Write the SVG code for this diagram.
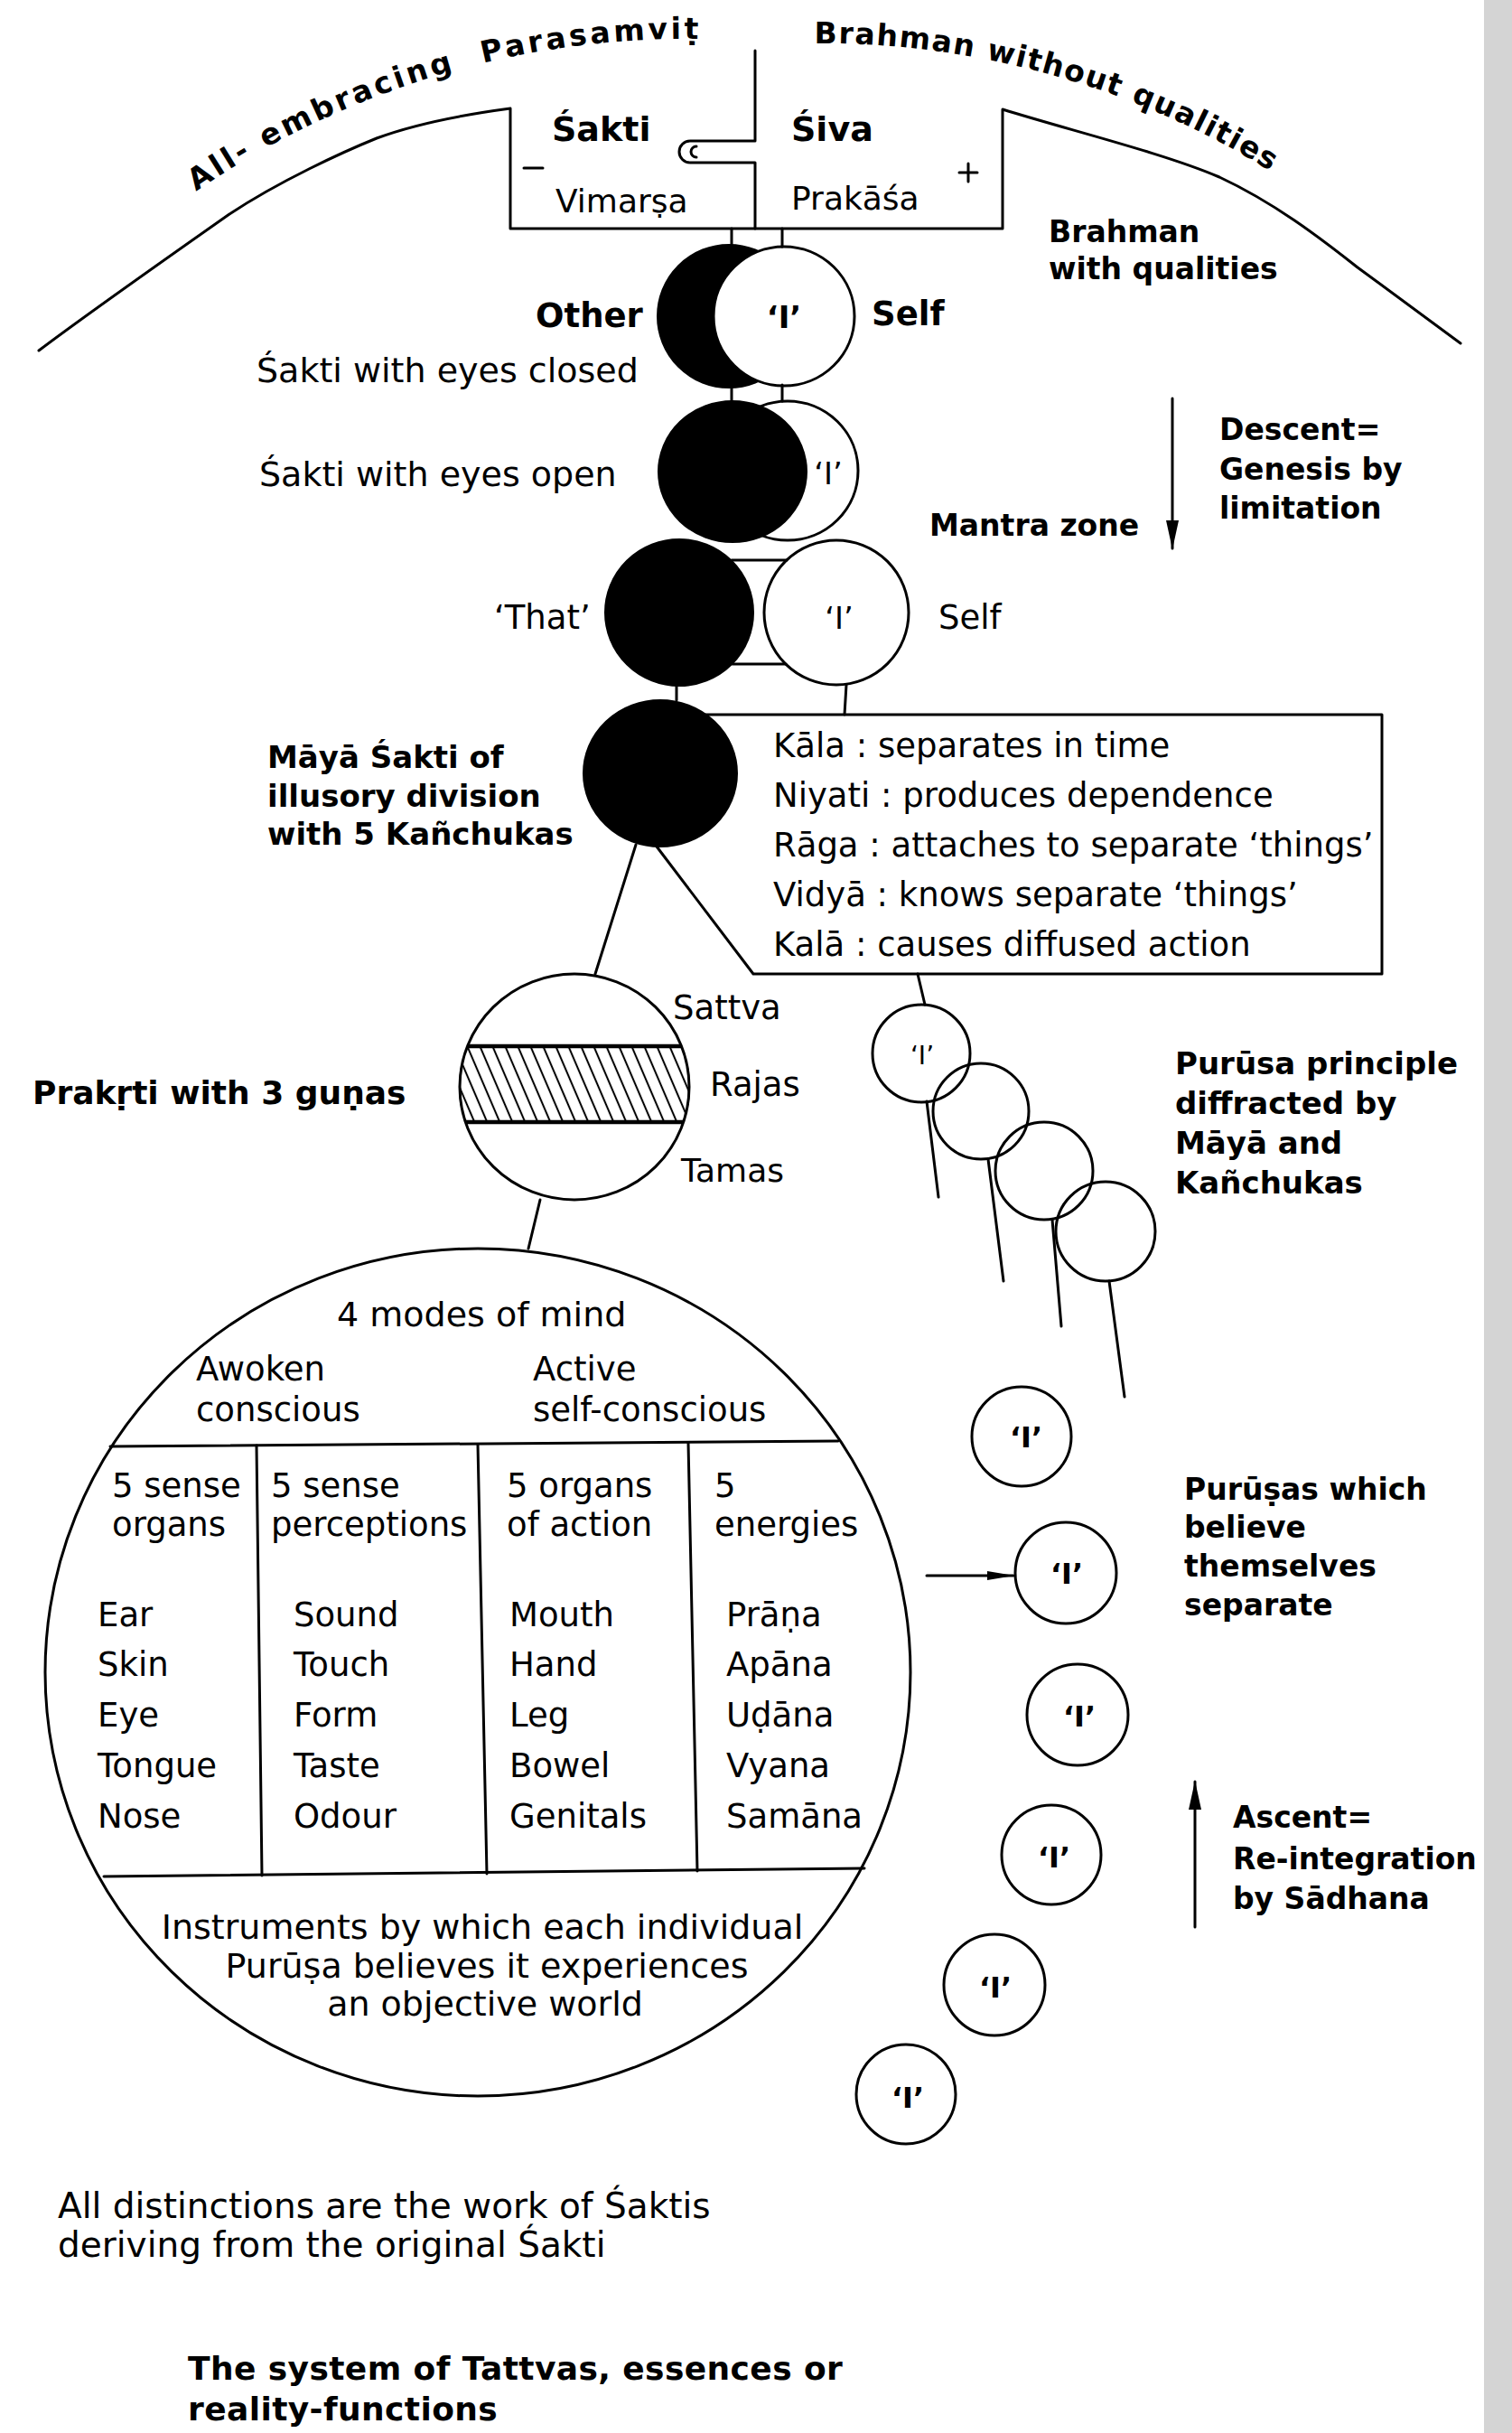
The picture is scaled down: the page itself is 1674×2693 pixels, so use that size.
<svg xmlns="http://www.w3.org/2000/svg" width="1674" height="2693" viewBox="0 0 1674 2693">
  <style>
    text { font-family: "DejaVu Sans", "Liberation Sans", sans-serif; fill: #000; }
    .b { font-weight: bold; }
    .ln { fill: none; stroke: #000; stroke-width: 3; stroke-linecap: round; stroke-linejoin: round; }
    .thick { fill: none; stroke: #000; stroke-width: 4.5; }
    .ring { fill: #fff; stroke: #000; stroke-width: 3; }
    .open { fill: none; stroke: #000; stroke-width: 3; }
    .dark { fill: #000; stroke: #000; stroke-width: 2; }
    .mid { text-anchor: middle; }
    .arcl { font-weight: bold; font-size: 33px; letter-spacing: 3.5px; }
    .arcr { font-weight: bold; font-size: 33px; letter-spacing: 1.5px; }
    .cap { font-weight: bold; font-size: 36px; letter-spacing: 0.4px; }
  </style>
  <defs>
    <path id="arcL" d="M197.5 225.8 A957 957 0 0 1 843.4 46.6"/>
    <path id="arcR" d="M893.6 48.1 A942 942 0 0 1 1450.3 218.3"/>
    <marker id="ah" markerUnits="userSpaceOnUse" markerWidth="32" markerHeight="16" refX="31" refY="8" orient="auto">
      <path d="M0,1 L32,8 L0,15 z" fill="#000"/>
    </marker>
    <marker id="ahs" markerUnits="userSpaceOnUse" markerWidth="30" markerHeight="12" refX="29" refY="6" orient="auto">
      <path d="M0,1 L30,6 L0,11 z" fill="#000"/>
    </marker>
    <pattern id="hatch" patternUnits="userSpaceOnUse" width="14" height="20" patternTransform="skewX(23.2)">
      <line x1="7" y1="-1" x2="7" y2="21" stroke="#000" stroke-width="2.2"/>
    </pattern>
    <clipPath id="prakClip">
      <ellipse cx="636" cy="1203" rx="127" ry="125"/>
    </clipPath>
  </defs>

  <rect width="1674" height="2693" fill="#fff"/>
  <rect x="1643" y="0" width="31" height="2693" fill="#d4d4d4"/>

  <!-- Parasamvit dome with the Siva/Sakti box -->
  <g id="parasamvit">
    <path class="ln" d="M43 388 C100 345 200 275 254 237 C310 200 380 168 417 153 C460 137 520 126 565 120 V253 H1110 V121 C1180 143 1290 170 1350 196 C1410 224 1460 262 1503 296 L1617 380"/>
    <path class="ln" d="M836 56 V156 H764 A12 12 0 0 0 764 180 H836 V253"/>
    <path class="ln" d="M771 162 A6 6 0 0 0 771 174"/>
    <line class="ln" x1="580" y1="186" x2="601" y2="186"/>
    <path class="ln" d="M1062 191 H1082 M1072 181 V201"/>
    <text class="b" x="611" y="156" font-size="38">Śakti</text>
    <text class="b" x="876" y="156" font-size="38">Śiva</text>
    <text x="615" y="235" font-size="36">Vimarṣa</text>
    <text x="876" y="232" font-size="36">Prakāśa</text>
    <!-- words set along the dome, one textPath each -->
    <text class="arcl"><textPath href="#arcL" startOffset="24">All-</textPath></text>
    <text class="arcl"><textPath href="#arcL" startOffset="115">embracing</textPath></text>
    <text class="arcl"><textPath href="#arcL" startOffset="374">Parasamviṭ</textPath></text>
    <text class="arcr"><textPath href="#arcR" startOffset="8">Brahman</textPath></text>
    <text class="arcr"><textPath href="#arcR" startOffset="199">without</textPath></text>
    <text class="arcr"><textPath href="#arcR" startOffset="366">qualities</textPath></text>
    <text class="b" x="1161" y="268" font-size="33">Brahman</text>
    <text class="b" x="1161" y="309" font-size="33">with qualities</text>
  </g>

  <!-- Sakti with eyes closed -->
  <g id="eyes-closed">
    <ellipse class="dark" cx="807" cy="350" rx="79" ry="79"/>
    <ellipse class="ring" cx="868" cy="350" rx="78" ry="77"/>
    <text class="b mid" x="868" y="363" font-size="34">‘I’</text>
    <text class="b" x="593" y="362" font-size="37">Other</text>
    <text class="b" x="965" y="360" font-size="37">Self</text>
    <text x="284" y="423" font-size="38">Śakti with eyes closed</text>
  </g>

  <!-- Sakti with eyes open -->
  <g id="eyes-open">
    <ellipse class="ring" cx="872" cy="521" rx="78" ry="77"/>
    <ellipse class="dark" cx="811" cy="522" rx="82" ry="78"/>
    <text class="mid" x="917" y="536" font-size="34">‘I’</text>
    <text x="287" y="538" font-size="38">Śakti with eyes open</text>
    <text class="b" x="1029" y="593" font-size="33">Mantra zone</text>
  </g>

  <!-- That / Self -->
  <g id="that-self">
    <ellipse class="dark" cx="752" cy="678" rx="82" ry="81"/>
    <ellipse class="ring" cx="926" cy="678" rx="80" ry="80"/>
    <line class="ln" x1="810" y1="620" x2="871" y2="620"/>
    <line class="ln" x1="811" y1="735" x2="870" y2="735"/>
    <text class="mid" x="929" y="696" font-size="34">‘I’</text>
    <text x="547" y="696" font-size="37">‘That’</text>
    <text x="1039" y="696" font-size="37">Self</text>
  </g>

  <!-- Maya Sakti and the five Kanchukas -->
  <g id="maya">
    <path class="ln" d="M780 791 H1530 V1078 H834 L727 937"/>
    <ellipse class="dark" cx="731" cy="856" rx="85" ry="81"/>
    <text class="b" x="296" y="850" font-size="34">Māyā Śakti of</text>
    <text class="b" x="296" y="893" font-size="34">illusory division</text>
    <text class="b" x="296" y="935" font-size="34">with 5 Kañchukas</text>
    <text x="856" y="838" font-size="37">Kāla : separates in time</text>
    <text x="856" y="893" font-size="37">Niyati : produces dependence</text>
    <text x="856" y="948" font-size="37">Rāga : attaches to separate ‘things’</text>
    <text x="856" y="1003" font-size="37">Vidyā : knows separate ‘things’</text>
    <text x="856" y="1058" font-size="37">Kalā : causes diffused action</text>
  </g>

  <!-- Prakrti with the three gunas -->
  <g id="prakrti">
    <ellipse class="ring" cx="636" cy="1203" rx="127" ry="125"/>
    <g clip-path="url(#prakClip)">
      <rect x="500" y="1158" width="272" height="84" fill="url(#hatch)"/>
      <line class="thick" x1="500" y1="1158" x2="772" y2="1158"/>
      <line class="thick" x1="500" y1="1242" x2="772" y2="1242"/>
    </g>
    <text class="b" x="36" y="1222" font-size="36">Prakṛti with 3 guṇas</text>
    <text x="745" y="1128" font-size="37">Sattva</text>
    <text x="786" y="1213" font-size="37">Rajas</text>
    <text x="754" y="1308" font-size="36">Tamas</text>
  </g>

  <!-- Four modes of mind and the instruments -->
  <g id="mind">
    <ellipse class="open" cx="529" cy="1851" rx="479" ry="469" stroke-width="3.5"/>
    <line class="ln" x1="122" y1="1601" x2="928" y2="1595"/>
    <line class="ln" x1="115" y1="2077" x2="957" y2="2068"/>
    <line class="ln" x1="284" y1="1600" x2="290" y2="2076"/>
    <line class="ln" x1="529" y1="1599" x2="539" y2="2074"/>
    <line class="ln" x1="762" y1="1597" x2="772" y2="2071"/>
    <text x="373" y="1468" font-size="38">4 modes of mind</text>
    <text x="217" y="1528" font-size="37">Awoken</text>
    <text x="217" y="1573" font-size="37">conscious</text>
    <text x="590" y="1528" font-size="37">Active</text>
    <text x="590" y="1573" font-size="37">self-conscious</text>

    <text x="124" y="1657" font-size="37">5 sense</text>
    <text x="124" y="1700" font-size="37">organs</text>
    <text x="300" y="1657" font-size="37">5 sense</text>
    <text x="300" y="1700" font-size="37">perceptions</text>
    <text x="561" y="1657" font-size="37">5 organs</text>
    <text x="561" y="1700" font-size="37">of action</text>
    <text x="791" y="1657" font-size="37">5</text>
    <text x="791" y="1700" font-size="37">energies</text>

    <text x="108" y="1800" font-size="37">Ear</text>
    <text x="108" y="1855" font-size="37">Skin</text>
    <text x="108" y="1911" font-size="37">Eye</text>
    <text x="108" y="1967" font-size="37">Tongue</text>
    <text x="108" y="2023" font-size="37">Nose</text>

    <text x="325" y="1800" font-size="37">Sound</text>
    <text x="325" y="1855" font-size="37">Touch</text>
    <text x="325" y="1911" font-size="37">Form</text>
    <text x="325" y="1967" font-size="37">Taste</text>
    <text x="325" y="2023" font-size="37">Odour</text>

    <text x="564" y="1800" font-size="37">Mouth</text>
    <text x="564" y="1855" font-size="37">Hand</text>
    <text x="564" y="1911" font-size="37">Leg</text>
    <text x="564" y="1967" font-size="37">Bowel</text>
    <text x="564" y="2023" font-size="37">Genitals</text>

    <text x="804" y="1800" font-size="37">Prāṇa</text>
    <text x="804" y="1855" font-size="37">Apāna</text>
    <text x="804" y="1911" font-size="37">Uḍāna</text>
    <text x="804" y="1967" font-size="37">Vyana</text>
    <text x="804" y="2023" font-size="37">Samāna</text>

    <text class="mid" x="534" y="2146" font-size="38">Instruments by which each individual</text>
    <text class="mid" x="539" y="2189" font-size="38">Purūṣa believes it experiences</text>
    <text class="mid" x="537" y="2231" font-size="38">an objective world</text>
  </g>

  <!-- Purusa principle diffracted -->
  <g id="purusa-chain">
    <circle class="open" cx="1020" cy="1166" r="54"/>
    <circle class="open" cx="1086" cy="1230" r="53"/>
    <circle class="open" cx="1156" cy="1296" r="54"/>
    <circle class="open" cx="1224" cy="1363" r="55"/>
    <text class="mid" x="1021" y="1178" font-size="28">‘I’</text>
    <text class="b" x="1301" y="1189" font-size="34">Purūsa principle</text>
    <text class="b" x="1301" y="1233" font-size="34">diffracted by</text>
    <text class="b" x="1301" y="1277" font-size="34">Māyā and</text>
    <text class="b" x="1301" y="1321" font-size="34">Kañchukas</text>
  </g>

  <!-- Separate Purusas -->
  <g id="purusas">
    <circle class="open" cx="1131" cy="1590" r="55"/>
    <circle class="open" cx="1180" cy="1741" r="56"/>
    <circle class="open" cx="1193" cy="1898" r="56"/>
    <circle class="open" cx="1164" cy="2053" r="55"/>
    <circle class="open" cx="1101" cy="2197" r="56"/>
    <circle class="open" cx="1003" cy="2318" r="55"/>
    <text class="b mid" x="1136" y="1602" font-size="32">‘I’</text>
    <text class="b mid" x="1181" y="1753" font-size="32">‘I’</text>
    <text class="b mid" x="1195" y="1911" font-size="32">‘I’</text>
    <text class="b mid" x="1167" y="2067" font-size="32">‘I’</text>
    <text class="b mid" x="1102" y="2211" font-size="32">‘I’</text>
    <text class="b mid" x="1005" y="2333" font-size="32">‘I’</text>
    <text class="b" x="1311" y="1660" font-size="33">Purūṣas which</text>
    <text class="b" x="1311" y="1702" font-size="33">believe</text>
    <text class="b" x="1311" y="1745" font-size="33">themselves</text>
    <text class="b" x="1311" y="1788" font-size="33">separate</text>
  </g>

  <!-- Descent and ascent -->
  <g id="descent">
    <text class="b" x="1350" y="487" font-size="33">Descent=</text>
    <text class="b" x="1350" y="531" font-size="33">Genesis by</text>
    <text class="b" x="1350" y="574" font-size="33">limitation</text>
  </g>
  <g id="ascent">
    <text class="b" x="1365" y="2023" font-size="33">Ascent=</text>
    <text class="b" x="1365" y="2069" font-size="33">Re-integration</text>
    <text class="b" x="1365" y="2113" font-size="33">by Sādhana</text>
  </g>

  <g id="notes">
    <text x="64" y="2455" font-size="39">All distinctions are the work of Śaktis</text>
    <text x="64" y="2498" font-size="39">deriving from the original Śakti</text>
    <text class="cap" x="208" y="2634">The system of Tattvas, essences or</text>
    <text class="cap" x="208" y="2679">reality-functions</text>
  </g>

  <!-- connectors -->
  <g id="connectors">
    <line class="ln" x1="810" y1="253" x2="810" y2="271"/>
    <line class="ln" x1="866" y1="253" x2="866" y2="273"/>
    <line class="ln" x1="810" y1="429" x2="810" y2="444"/>
    <line class="ln" x1="866" y1="426" x2="866" y2="444"/>
    <line class="ln" x1="749" y1="759" x2="749" y2="775"/>
    <line class="ln" x1="937" y1="758" x2="935" y2="791"/>
    <line class="ln" x1="704" y1="935" x2="659" y2="1078"/>
    <line class="ln" x1="1016" y1="1078" x2="1024" y2="1112"/>
    <line class="ln" x1="598" y1="1328" x2="585" y2="1382"/>
    <line class="ln" x1="1026" y1="1219" x2="1039" y2="1325"/>
    <line class="ln" x1="1094" y1="1283" x2="1111" y2="1418"/>
    <line class="ln" x1="1165" y1="1350" x2="1175" y2="1468"/>
    <line class="ln" x1="1228" y1="1418" x2="1245" y2="1546"/>
    <line class="ln" x1="1026" y1="1744" x2="1122" y2="1744" marker-end="url(#ahs)"/>
    <line class="ln" x1="1298" y1="441" x2="1298" y2="607" marker-end="url(#ah)"/>
    <line class="ln" x1="1323" y1="2133" x2="1323" y2="1972" marker-end="url(#ah)"/>
  </g>
</svg>
